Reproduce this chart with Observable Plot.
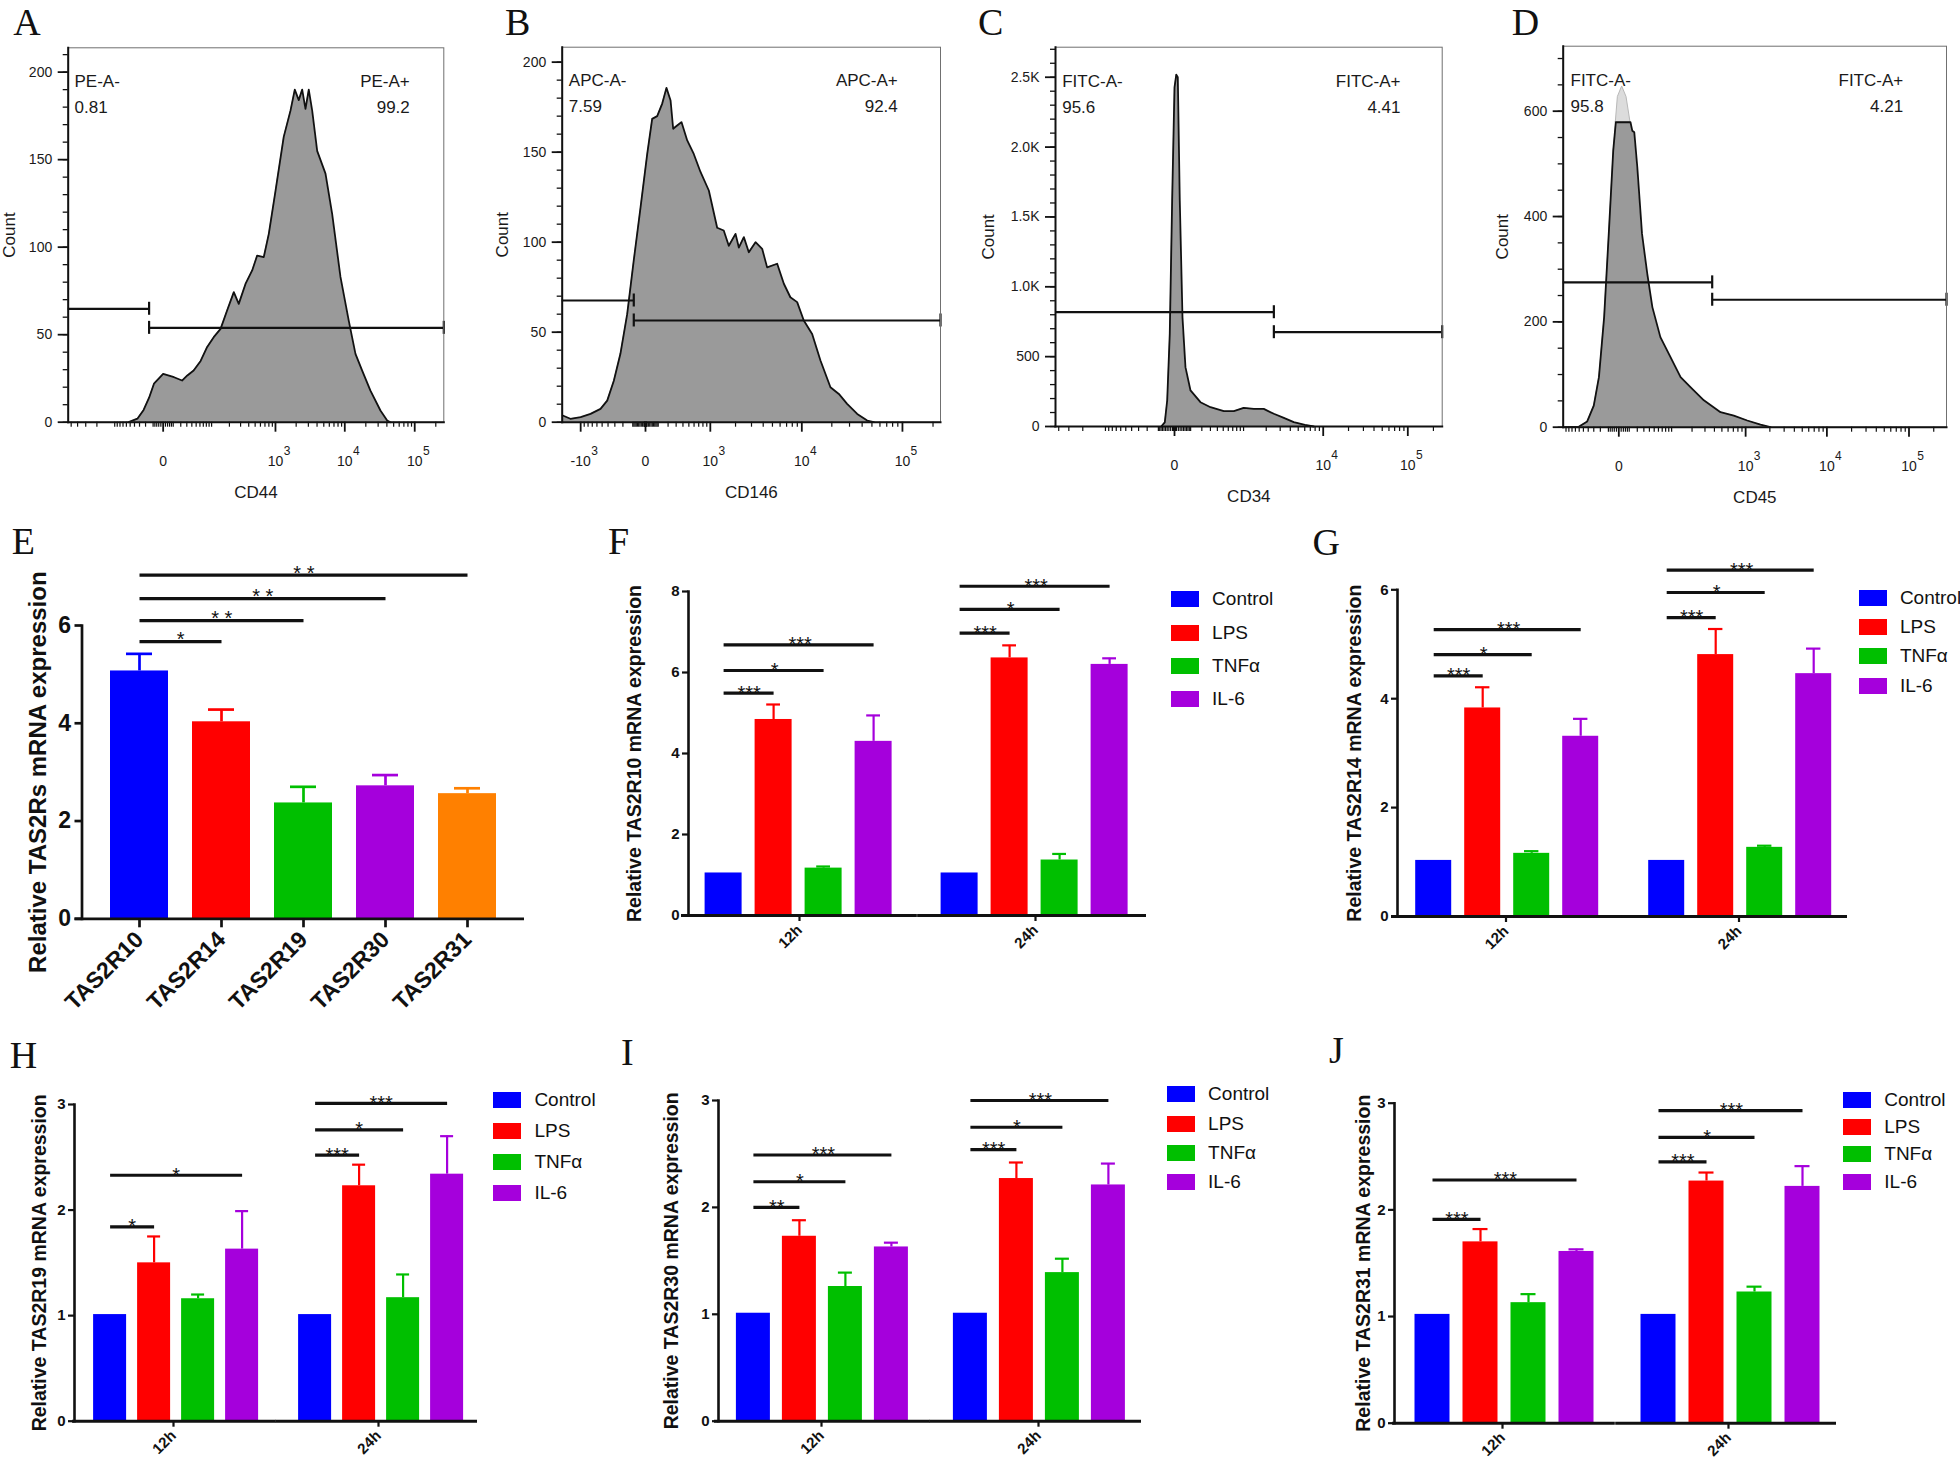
<!DOCTYPE html>
<html>
<head>
<meta charset="utf-8">
<script src="https://cdn.jsdelivr.net/npm/d3@7"></script>
<script src="https://cdn.jsdelivr.net/npm/@observablehq/plot@0.6"></script>
<style>
  html, body { margin: 0; padding: 0; background: #fff; }
  #page { position: relative; width: 1960px; height: 1469px; overflow: hidden; background: #fff; }
  .box { position: absolute; }
  .box svg { overflow: visible; display: block; }
  .letter { position: absolute; font-family: "Liberation Serif", "Times New Roman", serif; font-size: 38px; line-height: 32px; color: #111; white-space: nowrap; }
  .legend { position: absolute; white-space: nowrap; }
  .legend .lg-swatches { margin: 0 !important; font-size: 19px !important; font-family: "Liberation Sans", Arial, sans-serif !important; color: #111 !important; }
  .legend .lg-swatch { padding-bottom: var(--gap) !important; line-height: 20px !important; height: 20px; margin: 0 !important; }
  .legend .lg-swatch > svg { margin-right: 13px !important; }
</style>
</head>
<body>
<div id="page"></div>
<script>
const FONT = '"Liberation Sans", Arial, Helvetica, sans-serif';
const BLACK = "#111";

// ===================== DATA =====================
// ---- A–D: flow cytometry histograms, [fluorescence intensity, count] ----
const histCD44 = [[-54,0],[-34,2],[-23,7],[-15,14],[-9,22],[0,27.6],[11,25.7],[22,23.8],[31,26.7],[44,29.5],[62,35],[83,43],[109,48.6],[143,53.3],[184,64],[235,74.3],[281,67.6],[357,79],[451,86.7],[536,95.2],[672,94.3],[798,107.6],[1000,132],[1320,163],[1655,178],[1910,190],[2180,184],[2443,190],[2726,179],[3040,190],[3405,178],[4016,155],[5290,142],[6590,119],[8670,83],[11390,58],[14220,39],[17740,29.5],[23280,18],[32360,6.7],[40390,1],[45000,0]];
const histCD146 = [[-1650,3.7],[-1340,1.9],[-1000,2.8],[-740,4.6],[-530,7.4],[-413,12],[-314,23],[-229,38],[-154,60],[-91,90],[-36,119],[12,149],[49,168.5],[91,170],[138,177],[182,185.7],[229,178.7],[261,163],[314,164.8],[377,166.7],[471,156.5],[594,149],[741,139],[957,128.7],[1218,108],[1461,106.5],[1674,98],[2000,104.6],[2178,97],[2475,102.8],[2805,94.4],[3315,100],[3900,96.3],[4400,86],[5600,88],[6560,76.9],[7650,69.4],[8970,66.7],[10470,56.5],[12710,49],[15400,34.3],[19380,19.4],[23500,15.7],[28400,10.2],[35760,4.6],[44900,0.9],[52200,0]];
const histCD34 = [[-79,0],[-55,30],[-40,186],[-25,663],[-12,1617],[0,2428],[9,2519],[17,2500],[28,1617],[44,782],[63,425],[99,258],[186,174],[301,138],[511,110],[726,110],[1006,134],[1378,126],[1861,126],[2498,91],[3329,62],[4410,31],[6030,12],[7710,0]];
const histCD45 = [[-108,0],[-61,1],[-42,11],[-30,41],[-22,95],[-15,209],[-9.6,367],[-5,525],[-2.6,579],[11.4,579],[13.5,563],[16,560],[20,494],[27,367],[36,291],[46,228],[65,171],[96,133],[137,95],[190,76],[290,51],[480,28.5],[710,22],[1047,12.7],[1533,5],[2040,0]];
const peakCD45 = [[-2.6,579,579],[-0.8,579,627],[2.9,579,647],[7.1,579,627],[11.4,579,579]]; // [x, y1, y2]
// gates: [from, to, height]
const gateCD44 = [[-554,-15,64.8],[-15,260300,53.9]];
const gateCD146 = [[-1674,-91,67.6],[-91,236900,56.5]];
const gateCD34 = [[-4380,2500,818],[2500,253600,675]];
const gateCD45 = [[-110.6,374,275],[374,286000,242]];
const gateTextCD44 = ["PE-A-\n0.81", "PE-A+\n99.2"];
const gateTextCD146 = ["APC-A-\n7.59", "APC-A+\n92.4"];
const gateTextCD34 = ["FITC-A-\n95.6", "FITC-A+\n4.41"];
const gateTextCD45 = ["FITC-A-\n95.8", "FITC-A+\n4.21"];
// x tick values, base text, exponent
const xTicksCD44 = [[0,"0",""],[1e3,"10","3"],[1e4,"10","4"],[1e5,"10","5"]];
const xTicksCD146 = [[-1e3,"-10","3"],[0,"0",""],[1e3,"10","3"],[1e4,"10","4"],[1e5,"10","5"]];
const xTicksCD34 = [[0,"0",""],[1e4,"10","4"],[1e5,"10","5"]];
const xTicksCD45 = [[0,"0",""],[1e3,"10","3"],[1e4,"10","4"],[1e5,"10","5"]];
const countTicks200 = [0,50,100,150,200];
const countLabels200 = ["0","50","100","150","200"];
const countTicksCD34 = [0,500,1000,1500,2000,2500];
const countLabelsCD34 = ["0","500","1.0K","1.5K","2.0K","2.5K"];
const countTicksCD45 = [0,200,400,600];
const countLabelsCD45 = ["0","200","400","600"];

// ---- E: baseline expression ----
const genes = ["TAS2R10","TAS2R14","TAS2R19","TAS2R30","TAS2R31"];
const geneMean = [5.07,4.03,2.37,2.72,2.56];
const geneErr = [0.35,0.25,0.33,0.22,0.11];
const geneColors = ["#0000ff","#ff0000","#00bf00","#a500dc","#ff8000"];
const geneSig = [["TAS2R14",5.67,"*"],["TAS2R19",6.10,"* *"],["TAS2R30",6.55,"* *"],["TAS2R31",7.03,"* *"]];

// ---- F–J: treatments over time ----
const treatments = ["Control","LPS","TNFα","IL-6"];
const treatmentColors = ["#0000ff","#ff0000","#00bf00","#a500dc"];
const times = ["12h","24h"];
const tas2r10Mean = [[1.05,4.84,1.17,4.30],[1.05,6.36,1.37,6.20]];
const tas2r10Err  = [[0,0.37,0.04,0.64],[0,0.31,0.15,0.15]];
const tas2r10Sig  = [["12h","LPS",5.49,"***"],["12h","TNFα",6.05,"*"],["12h","IL-6",6.68,"***"],["24h","LPS",6.97,"***"],["24h","TNFα",7.56,"*"],["24h","IL-6",8.13,"***"]];
const tas2r14Mean = [[1.03,3.83,1.16,3.31],[1.03,4.81,1.27,4.46]];
const tas2r14Err  = [[0,0.38,0.04,0.32],[0,0.47,0.03,0.46]];
const tas2r14Sig  = [["12h","LPS",4.42,"***"],["12h","TNFα",4.81,"*"],["12h","IL-6",5.27,"***"],["24h","LPS",5.49,"***"],["24h","TNFα",5.95,"*"],["24h","IL-6",6.36,"***"]];
const tas2r19Mean = [[1.01,1.50,1.16,1.63],[1.01,2.23,1.17,2.34]];
const tas2r19Err  = [[0,0.25,0.04,0.36],[0,0.20,0.22,0.36]];
const tas2r19Sig  = [["12h","LPS",1.84,"*"],["12h","IL-6",2.33,"*"],["24h","LPS",2.52,"***"],["24h","TNFα",2.76,"*"],["24h","IL-6",3.01,"***"]];
const tas2r30Mean = [[1.01,1.73,1.26,1.63],[1.01,2.27,1.39,2.21]];
const tas2r30Err  = [[0,0.15,0.13,0.04],[0,0.15,0.13,0.20]];
const tas2r30Sig  = [["12h","LPS",2.00,"**"],["12h","TNFα",2.24,"*"],["12h","IL-6",2.49,"***"],["24h","LPS",2.54,"***"],["24h","TNFα",2.75,"*"],["24h","IL-6",3.00,"***"]];
const tas2r31Mean = [[1.02,1.70,1.13,1.61],[1.02,2.27,1.23,2.22]];
const tas2r31Err  = [[0,0.12,0.08,0.02],[0,0.08,0.05,0.19]];
const tas2r31Sig  = [["12h","LPS",1.91,"***"],["12h","IL-6",2.28,"***"],["24h","LPS",2.45,"***"],["24h","TNFα",2.68,"*"],["24h","IL-6",2.93,"***"]];

// ===================== LAYOUT =====================
const page = document.getElementById("page");
function place(node, l, t) {
  const d = document.createElement("div");
  d.className = "box";
  d.style.left = l + "px";
  d.style.top = t + "px";
  d.append(node);
  page.append(d);
}
function letter(txt, l, baseline) {
  const d = document.createElement("div");
  d.className = "letter";
  d.textContent = txt;
  d.style.left = l + "px";
  d.style.top = (baseline - 28.8) + "px";
  page.append(d);
}

function symMinor() {
  const t = [];
  for (let e = 1; e <= 5; e++) for (let m = 1; m <= 9; m++) t.push(m * 10 ** e, -m * 10 ** e);
  for (let m = 2; m <= 8; m += 2) t.push(m, -m);
  return t;
}

function flowPanel(o) {
  const {box, frame} = o;
  const [xmin, xmax] = o.xDomain;
  const g = o.gates;
  const caps = [[g[0][1], g[0][2]], [g[1][0], g[1][2]], [g[1][1], g[1][2]]];
  const majorX = o.xTicks.map(d => d[0]);
  const minorX = symMinor().filter(v => v > xmin && v < xmax && !majorX.includes(v));
  const yMinor = d3.range(0, o.yMax, o.yMinorStep);
  const marks = [
    Plot.areaY(o.hist, {x: d => d[0], y: d => d[1], fill: "#9a9a9a", curve: "linear"})
  ];
  if (o.peak) marks.push(Plot.areaY(o.peak, {x: d => d[0], y1: d => d[1], y2: d => d[2], fill: "#dcdcdc", stroke: "#b8b8b8", strokeWidth: 1, curve: "linear"}));
  marks.push(
    Plot.lineY(o.hist, {x: d => d[0], y: d => d[1], stroke: BLACK, strokeWidth: 1.8, curve: "linear"}),
    Plot.ruleY(g, {x1: d => d[0], x2: d => d[1], y: d => d[2], stroke: BLACK, strokeWidth: 2.2}),
    Plot.ruleX(caps, {x: d => d[0], y1: d => d[1], y2: d => d[1], insetTop: -6.5, insetBottom: -6.5, stroke: BLACK, strokeWidth: 2.2}),
    Plot.frame({stroke: "#707070", strokeWidth: 1}),
    Plot.frame({anchor: "left", stroke: BLACK, strokeWidth: 2}),
    Plot.frame({anchor: "bottom", stroke: BLACK, strokeWidth: 2}),
    Plot.axisY({ticks: yMinor, tickSize: 5, tickFormat: () => "", label: null, stroke: BLACK, strokeWidth: 1.3}),
    Plot.axisY({ticks: o.yTicks, tickSize: 10, tickPadding: 6, tickFormat: d => o.yLabels[o.yTicks.indexOf(d)], fontSize: 14, label: null, stroke: BLACK, strokeWidth: 1.8}),
    Plot.axisX({ticks: minorX, tickSize: 5, tickFormat: () => "", label: null, stroke: BLACK, strokeWidth: 1.2}),
    Plot.axisX({ticks: majorX, tickSize: 10, tickPadding: 24, tickFormat: d => o.xTicks[majorX.indexOf(d)][1], fontSize: 14, label: null, stroke: BLACK, strokeWidth: 1.8}),
    Plot.text(o.xTicks.filter(d => d[2] && d[0] > 0), {x: d => d[0], text: d => d[2], frameAnchor: "bottom", textAnchor: "middle", lineAnchor: "top", dy: 24, dx: 11.5, fontSize: 12}),
    Plot.text(o.xTicks.filter(d => d[2] && d[0] < 0), {x: d => d[0], text: d => d[2], frameAnchor: "bottom", textAnchor: "middle", lineAnchor: "top", dy: 24, dx: 14, fontSize: 12}),
    Plot.text(["Count"], {text: d => d, frameAnchor: "left", textAnchor: "middle", lineAnchor: "middle", dx: o.countDx, rotate: -90, fontSize: 17}),
    Plot.text([o.xLabel], {text: d => d, frameAnchor: "bottom", textAnchor: "middle", lineAnchor: "middle", dy: 70, fontSize: 17}),
    Plot.text([o.labels[0]], {text: d => d, frameAnchor: "top-left", textAnchor: "start", lineAnchor: "top", dx: o.labelDx[0], dy: o.labelDy, lineHeight: 1.53, fontSize: 17}),
    Plot.text([o.labels[1]], {text: d => d, frameAnchor: "top-right", textAnchor: "end", lineAnchor: "top", dx: o.labelDx[1], dy: o.labelDy, lineHeight: 1.53, fontSize: 17})
  );
  const svg = Plot.plot({
    width: box.w, height: box.h,
    marginLeft: frame.l - box.l, marginRight: box.l + box.w - frame.r,
    marginTop: frame.t - box.t, marginBottom: box.t + box.h - frame.b,
    style: {fontFamily: FONT, color: "#1a1a1a", background: "transparent", overflow: "visible"},
    x: {type: "symlog", constant: o.c, domain: o.xDomain},
    y: {domain: [0, o.yMax]},
    marks
  });
  place(svg, box.l, box.t);
}

flowPanel({box: {l: 0, t: 0, w: 460, h: 510}, frame: {l: 67.7, r: 443.3, t: 47.3, b: 421.7},
  c: 25.5, xDomain: [-554, 260300], yMax: 213.9, yMinorStep: 10, yTicks: countTicks200, yLabels: countLabels200,
  hist: histCD44, gates: gateCD44, labels: gateTextCD44, xTicks: xTicksCD44, xLabel: "CD44",
  countDx: -58.9, labelDx: [6.3, -34], labelDy: 21});
flowPanel({box: {l: 490, t: 0, w: 470, h: 510}, frame: {l: 561.7, r: 940, t: 46.7, b: 421.7},
  c: 300, xDomain: [-1674, 236900], yMax: 208.3, yMinorStep: 10, yTicks: countTicks200, yLabels: countLabels200,
  hist: histCD146, gates: gateCD146, labels: gateTextCD146, xTicks: xTicksCD146, xLabel: "CD146",
  countDx: -59.2, labelDx: [6.6, -42.7], labelDy: 20});
flowPanel({box: {l: 970, t: 0, w: 490, h: 510}, frame: {l: 1055, r: 1441.7, t: 46.7, b: 426},
  c: 183, xDomain: [-4380, 253600], yMax: 2715, yMinorStep: 100, yTicks: countTicksCD34, yLabels: countLabelsCD34,
  hist: histCD34, gates: gateCD34, labels: gateTextCD34, xTicks: xTicksCD34, xLabel: "CD34",
  countDx: -66.7, labelDx: [6.7, -41.7], labelDy: 21.6});
flowPanel({box: {l: 1480, t: 0, w: 480, h: 510}, frame: {l: 1562.7, r: 1946, t: 45.7, b: 426.7},
  c: 29.5, xDomain: [-110.6, 286000], yMax: 723.4, yMinorStep: 50, yTicks: countTicksCD45, yLabels: countLabelsCD45,
  hist: histCD45, peak: peakCD45, gates: gateCD45, labels: gateTextCD45, xTicks: xTicksCD45, xLabel: "CD45",
  countDx: -61, labelDx: [7.3, -43.3], labelDy: 21});

// ---- E ----
(function genePanel() {
  const box = {l: 0, t: 560, w: 540, h: 460}, frame = {l: 81.5, r: 524, t: 625, b: 918.3};
  const W = frame.r - frame.l, bw = 58.5, step = 82.2;
  const pi = 1 - bw / step, po = (W - (4 * step + bw)) / (2 * step);
  const rows = genes.map((g, i) => ({gene: g, mean: geneMean[i], err: geneErr[i]}));
  const sig = geneSig.map(([to, level, label]) => ({from: genes[0], to, level, label, k: genes.indexOf(to)}));
  const svg = Plot.plot({
    width: box.w, height: box.h,
    marginLeft: frame.l - box.l, marginRight: box.l + box.w - frame.r,
    marginTop: frame.t - box.t, marginBottom: box.t + box.h - frame.b,
    style: {fontFamily: FONT, color: BLACK, background: "transparent", overflow: "visible"},
    x: {domain: genes, paddingInner: pi, paddingOuter: po, align: 0.5},
    y: {domain: [0, 6]},
    color: {domain: genes, range: geneColors},
    marks: [
      Plot.barY(rows, {x: "gene", y: "mean", fill: "gene"}),
      Plot.ruleX(rows, {x: "gene", y1: "mean", y2: d => d.mean + d.err, stroke: "gene", strokeWidth: 2.7}),
      Plot.tickY(rows, {x: "gene", y: d => d.mean + d.err, stroke: "gene", strokeWidth: 2.7, insetLeft: 16, insetRight: 16}),
      Plot.link(sig, {x1: "from", x2: "to", y1: "level", y2: "level", stroke: BLACK, strokeWidth: 3.3}),
      ...[1, 2, 3, 4].map(k => Plot.text(sig.filter(d => d.k === k), {x: "from", y: "level", text: "label", dx: k * step / 2, dy: -1.6, fontSize: 20, fill: BLACK})),
      Plot.frame({anchor: "left", stroke: BLACK, strokeWidth: 2.7}),
      Plot.ruleY([0], {stroke: BLACK, strokeWidth: 2.8, insetLeft: -7}),
      Plot.axisY({ticks: [0, 2, 4, 6], tickFormat: d => String(d), tickSize: 7, tickPadding: 4, fontSize: 23, fontWeight: "bold", stroke: BLACK, strokeWidth: 2.7, label: null}),
      Plot.axisX({tickSize: 9, tickPadding: 8, tickRotate: -45, fontSize: 23, fontWeight: "bold", stroke: BLACK, strokeWidth: 2.7, label: null}),
      Plot.text(["Relative TAS2Rs mRNA expression"], {text: d => d, frameAnchor: "left", textAnchor: "middle", lineAnchor: "middle", dx: -44, rotate: -90, fontSize: 24, fontWeight: "bold"})
    ]
  });
  place(svg, box.l, box.t);
})();

// ---- F–J ----
function groupedPanel(o) {
  const L = o.layout, {box, frame} = L;
  const W = frame.r - frame.l;
  const f = W - L.groupStep, g = 2 * L.groupStep - W;
  const span = 3 * L.barStep + L.barW;
  const xPadIn = 1 - L.barW / L.barStep;
  const xPadOut = (f - span) / (2 * L.barStep);
  const xAlign = (L.firstBar - frame.l) / (f - span);
  const rows = [];
  times.forEach((t, ti) => treatments.forEach((tr, k) => rows.push({time: t, treatment: tr, mean: o.mean[ti][k], err: o.err[ti][k]})));
  const withErr = rows.filter(d => d.err > 0);
  const sig = o.sig.map(([time, to, level, label]) => ({time, from: treatments[0], to, level, label, k: treatments.indexOf(to)}));
  const svg = Plot.plot({
    width: box.w, height: box.h,
    marginLeft: frame.l - box.l, marginRight: box.l + box.w - frame.r,
    marginTop: frame.t - box.t, marginBottom: box.t + box.h - frame.b,
    style: {fontFamily: FONT, color: BLACK, background: "transparent", overflow: "visible"},
    fx: {domain: times, paddingInner: g / L.groupStep, paddingOuter: 0},
    x: {domain: treatments, paddingInner: xPadIn, paddingOuter: xPadOut, align: xAlign, axis: null},
    y: {domain: [0, o.yMax]},
    color: {domain: treatments, range: treatmentColors},
    marks: [
      Plot.barY(rows, {fx: "time", x: "treatment", y: "mean", fill: "treatment"}),
      Plot.ruleX(withErr, {fx: "time", x: "treatment", y1: "mean", y2: d => d.mean + d.err, stroke: "treatment", strokeWidth: 2.2}),
      Plot.tickY(withErr, {fx: "time", x: "treatment", y: d => d.mean + d.err, stroke: "treatment", strokeWidth: 2.2, insetLeft: L.capInset, insetRight: L.capInset}),
      Plot.link(sig, {fx: "time", x1: "from", x2: "to", y1: "level", y2: "level", stroke: BLACK, strokeWidth: 3.2}),
      ...[1, 2, 3].map(k => Plot.text(sig.filter(d => d.k === k), {fx: "time", x: "from", y: "level", text: "label", dx: k * L.barStep / 2, dy: 0, fontSize: 20, fill: BLACK})),
      Plot.frame({anchor: "left", facetAnchor: "left", stroke: BLACK, strokeWidth: 2.6}),
      Plot.ruleY([0], {facetAnchor: "left", insetLeft: -L.extL, insetRight: -g / 2, stroke: BLACK, strokeWidth: 3}),
      Plot.ruleY([0], {facetAnchor: "right", insetLeft: -g / 2, stroke: BLACK, strokeWidth: 3}),
      Plot.axisY({ticks: o.yTicks, tickFormat: d => String(d), tickSize: 6, tickPadding: 3, fontSize: 15, fontWeight: "bold", stroke: BLACK, strokeWidth: 2.2, label: null}),
      Plot.axisFx({anchor: "bottom", tickSize: 6, tickPadding: 6, tickRotate: -45, fontSize: 15, fontWeight: "bold", stroke: BLACK, strokeWidth: 2.2, label: null}),
      Plot.text([o.title], {text: d => d, frameAnchor: "left", facetAnchor: "left", textAnchor: "middle", lineAnchor: "middle", dx: L.titleDx, rotate: -90, fontSize: 19.5, fontWeight: "bold"})
    ]
  });
  place(svg, box.l, box.t);

  const leg = Plot.legend({
    color: {domain: treatments, range: treatmentColors},
    legend: "swatches", swatchWidth: 28, swatchHeight: 16, columns: 1, className: "lg",
    style: {fontSize: "19px", fontFamily: FONT, color: BLACK}
  });
  const wrap = document.createElement("div");
  wrap.className = "legend";
  wrap.style.left = L.legend.l + "px";
  wrap.style.top = (L.legend.t - 10) + "px";
  wrap.style.setProperty("--gap", (L.legend.gap - 20) + "px");
  wrap.append(leg);
  page.append(wrap);
}

groupedPanel({title: "Relative TAS2R10 mRNA expression", mean: tas2r10Mean, err: tas2r10Err, sig: tas2r10Sig, yMax: 8, yTicks: [0, 2, 4, 6, 8],
  layout: {box: {l: 560, t: 520, w: 600, h: 460}, frame: {l: 687.4, r: 1147.5, t: 591, b: 915}, firstBar: 703.0, barW: 37.3, barStep: 50.97, groupStep: 236.9, capInset: 11.6, extL: 7, titleDx: -54.1, legend: {l: 1171.1, t: 599.3, gap: 33.3}}});
groupedPanel({title: "Relative TAS2R14 mRNA expression", mean: tas2r14Mean, err: tas2r14Err, sig: tas2r14Sig, yMax: 6, yTicks: [0, 2, 4, 6],
  layout: {box: {l: 1300, t: 520, w: 560, h: 460}, frame: {l: 1396.8, r: 1847.1, t: 589.3, b: 916}, firstBar: 1412.8, barW: 36.4, barStep: 49.93, groupStep: 233.2, capInset: 10.8, extL: 6, titleDx: -43.2, legend: {l: 1858.9, t: 597.7, gap: 29.3}}});
groupedPanel({title: "Relative TAS2R19 mRNA expression", mean: tas2r19Mean, err: tas2r19Err, sig: tas2r19Sig, yMax: 3, yTicks: [0, 1, 2, 3],
  layout: {box: {l: 0, t: 1030, w: 490, h: 439}, frame: {l: 73.9, r: 476.7, t: 1104, b: 1420.7}, firstBar: 92.6, barW: 32.7, barStep: 43.97, groupStep: 205.1, capInset: 10, extL: 2, titleDx: -35, legend: {l: 493.4, t: 1100, gap: 31.1}}});
groupedPanel({title: "Relative TAS2R30 mRNA expression", mean: tas2r30Mean, err: tas2r30Err, sig: tas2r30Sig, yMax: 3, yTicks: [0, 1, 2, 3],
  layout: {box: {l: 610, t: 1030, w: 545, h: 439}, frame: {l: 717.1, r: 1141.2, t: 1100, b: 1420.7}, firstBar: 733.7, barW: 34.6, barStep: 46.6, groupStep: 217.8, capInset: 10, extL: 4, titleDx: -47, legend: {l: 1167.1, t: 1094.3, gap: 29.3}}});
groupedPanel({title: "Relative TAS2R31 mRNA expression", mean: tas2r31Mean, err: tas2r31Err, sig: tas2r31Sig, yMax: 3, yTicks: [0, 1, 2, 3],
  layout: {box: {l: 1320, t: 1030, w: 530, h: 439}, frame: {l: 1393.5, r: 1836.3, t: 1102.7, b: 1422.7}, firstBar: 1413, barW: 35.2, barStep: 48.6, groupStep: 226.2, capInset: 10, extL: 2, titleDx: -30.6, legend: {l: 1843.3, t: 1100, gap: 27.2}}});

// ---- panel letters ----
[["A", 13.3, 34.5], ["B", 505, 34.5], ["C", 978, 34.5], ["D", 1511.7, 34.5], ["E", 11.8, 553.3], ["F", 608, 554],
 ["G", 1312.6, 555], ["H", 9.7, 1068], ["I", 621, 1065], ["J", 1329, 1063]].forEach(([t, l, b]) => letter(t, l, b));
</script>
</body>
</html>
